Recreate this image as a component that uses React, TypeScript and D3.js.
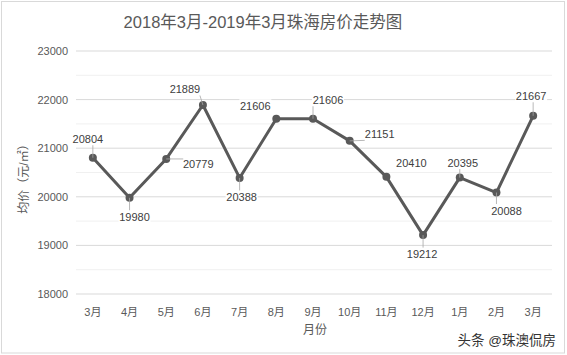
import React from "react";
import * as d3 from "d3";

const categories = ["3月", "4月", "5月", "6月", "7月", "8月", "9月", "10月", "11月", "12月", "1月", "2月", "3月"];
const prices = [20804, 19980, 20779, 21889, 20388, 21606, 21606, 21151, 20410, 19212, 20395, 20088, 21667];
const yTicks = [18000, 19000, 20000, 21000, 22000, 23000];
const yMinorTicks = [18500, 19500, 20500, 21500, 22500];
const title = "2018年3月-2019年3月珠海房价走势图";
const yTitle = "均价（元/㎡）";
const xTitle = "月份";
const watermark = "头条 @珠澳侃房";

// label placement (layout only): offset of label centre from its point, leader line flag
const labelOffsets: [number, number, boolean][] = [
  [-5, -19, true], [5, 19, true], [32, 5, true], [-18, -16, true], [2, 19, true],
  [-21, -13, false], [15, -19, true], [30, -7, true], [25, -14, false], [-1, 19, true],
  [3, -15, true], [10, 18, true], [-2, -20, true],
];

const W = 567, H = 355;
const FONT = "'Liberation Sans', 'Noto Sans CJK SC', sans-serif";

export default function App() {
  const x = d3.scaleBand<number>().domain(d3.range(categories.length)).range([74.5, 551.5]).padding(0);
  const y = d3.scaleLinear().domain([18000, 23000]).range([294, 51]);
  const cx = (i: number) => (x(i) as number) + x.bandwidth() / 2;
  const line = d3.line<number>().x((_, i) => cx(i)).y((d) => y(d));
  const textColor = "#595959";

  return (
    <svg width={W} height={H} style={{ position: "absolute", left: 0, top: 0, background: "#fff" }} fontFamily={FONT}>
      <rect x={1.5} y={1.5} width={W - 4} height={H - 3.5} fill="#fff" stroke="#d9d9d9" />
      <text x={263} y={28} textAnchor="middle" fontSize={16.5} fill={textColor}>{title}</text>
      {yMinorTicks.map((t) => (
        <line key={"m" + t} x1={76} x2={552} y1={y(t)} y2={y(t)} stroke="#f0f0f0" />
      ))}
      {yTicks.map((t) => (
        <g key={t}>
          <line x1={76} x2={552} y1={y(t)} y2={y(t)} stroke="#d9d9d9" />
          <text x={68} y={y(t) + 4} textAnchor="end" fontSize={11} fill={textColor}>{t}</text>
        </g>
      ))}
      {categories.map((c, i) => (
        <text key={i} x={cx(i)} y={316} textAnchor="middle" fontSize={11} fill={textColor}>{c}</text>
      ))}
      <text x={315} y={334} textAnchor="middle" fontSize={12} fill={textColor}>{xTitle}</text>
      <text transform={`translate(28,176) rotate(-90)`} textAnchor="middle" fontSize={12} fill={textColor}>{yTitle}</text>
      <path d={line(prices) || ""} fill="none" stroke="#595959" strokeWidth={3} strokeLinejoin="round" />
      {prices.map((v, i) => (
        <circle key={i} cx={cx(i)} cy={y(v)} r={4} fill="#595959" />
      ))}
      {prices.map((v, i) => {
        const [dx, dy, leader] = labelOffsets[i];
        const px = cx(i), py = y(v);
        const lx = px + dx, ly = py + dy;
        const w = 30, h = 13;
        // leader end: nearest point on label box
        const ex = Math.max(lx - w / 2, Math.min(px, lx + w / 2));
        const ey = Math.max(ly - h / 2, Math.min(py, ly + h / 2));
        return (
          <g key={"l" + i}>
            <rect x={lx - w / 2 - 1} y={ly - h / 2} width={w + 2} height={h} fill="#fff" />
            {leader && <line x1={px} y1={py} x2={ex} y2={ey} stroke="#a6a6a6" strokeWidth={0.8} />}
            <text x={lx} y={ly + 4} textAnchor="middle" fontSize={11} fill="#404040">{v}</text>
          </g>
        );
      })}
      <text x={556} y={345} textAnchor="end" fontSize={13.5} fill="#333">{watermark}</text>
    </svg>
  );
}
